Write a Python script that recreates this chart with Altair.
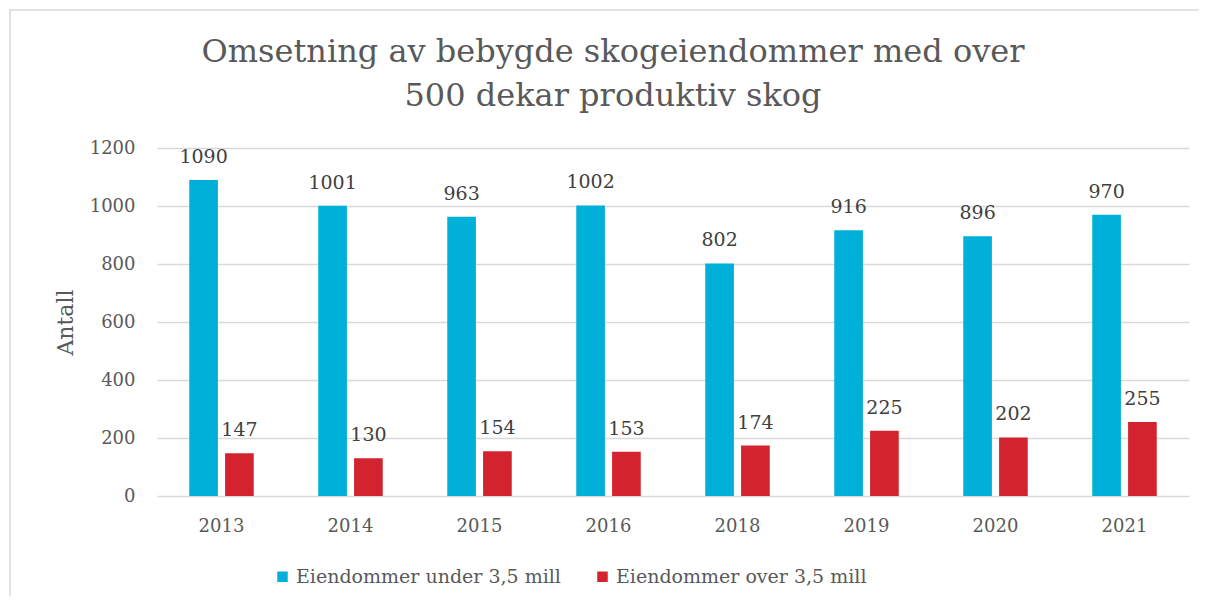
import altair as alt
import pandas as pd

years = ["2013", "2014", "2015", "2016", "2018", "2019", "2020", "2021"]
under = [1090, 1001, 963, 1002, 802, 916, 896, 970]
over = [147, 130, 154, 153, 174, 225, 202, 255]
series = ["Eiendommer under 3,5 mill", "Eiendommer over 3,5 mill"]
colors = ["#00B0D8", "#D2232E"]

rows = []
for i, y in enumerate(years):
    rows.append({"year": y, "series": series[0], "value": under[i]})
    rows.append({"year": y, "series": series[1], "value": over[i]})
df = pd.DataFrame(rows)

FONT = "DejaVu Serif"

x = alt.X("year:N", sort=years, title=None,
          scale=alt.Scale(paddingInner=0.5, paddingOuter=0.25),
          axis=alt.Axis(labelAngle=0, labelFontSize=18, labelColor="#595959",
                        labelFont=FONT, ticks=False, domain=False, labelPadding=21))
xo = alt.XOffset("series:N", sort=series, scale=alt.Scale(paddingInner=0.2))
y = alt.Y("value:Q", title="Antall",
          scale=alt.Scale(domain=[0, 1200]),
          axis=alt.Axis(values=[0, 200, 400, 600, 800, 1000, 1200], format="d",
                        labelFontSize=18,
                        labelColor="#595959", labelFont=FONT, ticks=False, domain=False,
                        gridColor="#D9D9D9", gridWidth=1.5, labelPadding=22,
                        titleFont=FONT, titleFontSize=22, titleFontWeight="normal",
                        titleColor="#595959", titlePadding=12))

bars = alt.Chart(df).mark_bar().encode(
    x=x, xOffset=xo, y=y,
    color=alt.Color("series:N", sort=series,
                    scale=alt.Scale(domain=series, range=colors),
                    legend=alt.Legend(title=None, orient="none", direction="horizontal",
                                      legendX=116, legendY=419,
                                      symbolType="square", symbolSize=110,
                                      symbolStrokeWidth=0, labelLimit=0,
                                      labelFont=FONT, labelFontSize=19,
                                      labelColor="#595959", columnPadding=32,
                                      labelOffset=4)),
)

labels = alt.Chart(df).mark_text(font=FONT, fontSize=19, color="#404040",
                                 baseline="alphabetic", dy=-17).encode(
    x=x, xOffset=xo, y=y, text="value:Q"
)

border = alt.Chart(alt.Data(values=[{}])).mark_rect(
    fill=None, stroke="#D9D9D9", strokeWidth=1.5
).encode(x=alt.value(-147), x2=alt.value(1043), y=alt.value(-138), y2=alt.value(470))

chart = alt.layer(border, bars, labels).properties(
    width=1032, height=348,
    autosize=alt.AutoSizeParams(type="none"),
    padding={"left": 149, "top": 140, "right": 10, "bottom": 100},
    title=alt.Title(["Omsetning av bebygde skogeiendommer med over", "500 dekar produktiv skog"],
                    font=FONT, fontSize=32, fontWeight="normal", color="#595959",
                    anchor="middle", frame="group", dx=-60, lineHeight=44, offset=-104),
).configure_view(stroke=None)

chart.save("out.html", embed_options={"renderer": "svg", "actions": False})
